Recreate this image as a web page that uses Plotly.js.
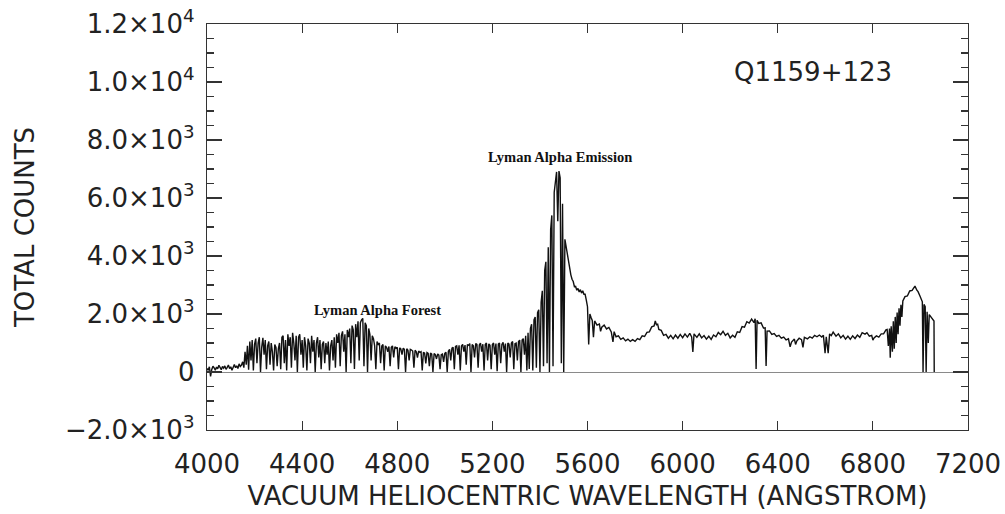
<!DOCTYPE html>
<html>
<head>
<meta charset="utf-8">
<script src="https://cdn.plot.ly/plotly-3.0.1.min.js"></script>
<style>html,body{margin:0;padding:0;background:#fff;}#chart{width:1005px;height:514px;}</style>
</head>
<body>
<div id="chart"></div>
<script>
// ---- Data (Q1159+123) ----
// Segment 1: noisy blue end, 4000-4145 A
const waveBlue = [4000,4005,4010,4015,4020,4025,4030,4035,4040,4045,4050,4055,4060,4065,4070,4075,4080,4085,4090,4095,
  4100,4105,4110,4115,4120,4125,4130,4135,4140,4145];
const countsBlue = [120,60,180,-150,90,200,140,60,170,110,230,150,80,190,130,210,90,160,240,120,
  180,60,200,260,150,210,120,280,190,240];

// Segment 2: Lyman alpha forest, 4150-5395 A
const waveForest = [
  4150,4155,4160,4165,4170,4175,4180,4185,4190,4195,
  4200,4205,4210,4215,4220,4225,4230,4235,4240,4245,4250,4255,4260,4265,4270,4275,4280,4285,4290,4295,
  4300,4305,4310,4315,4320,4325,4330,4335,4340,4345,4350,4355,4360,4365,4370,4375,4380,4385,4390,4395,
  4400,4405,4410,4415,4420,4425,4430,4435,4440,4445,4450,4455,4460,4465,4470,4475,4480,4485,4490,4495,
  4500,4505,4510,4515,4520,4525,4530,4535,4540,4545,4550,4555,4560,4565,4570,4575,4580,4585,4590,4595,
  4600,4605,4610,4615,4620,4625,4630,4635,4640,4645,4650,4655,4660,4665,4670,4675,4680,4685,4690,4695,
  4700,4705,4710,4715,4720,4725,4730,4735,4740,4745,4750,4755,4760,4765,4770,4775,4780,4785,4790,4795,
  4800,4805,4810,4815,4820,4825,4830,4835,4840,4845,4850,4855,4860,4865,4870,4875,4880,4885,4890,4895,
  4900,4905,4910,4915,4920,4925,4930,4935,4940,4945,4950,4955,4960,4965,4970,4975,4980,4985,4990,4995,
  5000,5005,5010,5015,5020,5025,5030,5035,5040,5045,5050,5055,5060,5065,5070,5075,5080,5085,5090,5095,
  5100,5105,5110,5115,5120,5125,5130,5135,5140,5145,5150,5155,5160,5165,5170,5175,5180,5185,5190,5195,
  5200,5205,5210,5215,5220,5225,5230,5235,5240,5245,5250,5255,5260,5265,5270,5275,5280,5285,5290,5295,
  5300,5305,5310,5315,5320,5325,5330,5335,5340,5345,5350,5355,5360,5365,5370,5375,5380,5385,5390,5395];
const countsForest = [
  350,150,700,250,900,80,1050,400,1100,50,
  950,1150,300,1000,1200,0,850,1180,600,1100,100,900,1050,250,1000,700,50,950,850,200,
  800,1000,100,1200,1250,300,1100,50,1300,900,1200,150,1350,1000,400,1250,0,1200,1300,600,
  1100,150,1200,900,50,1150,1000,300,1250,700,1100,0,1000,1200,500,1100,100,950,1050,300,
  1000,600,1050,50,900,1100,400,1200,150,1300,1000,1350,200,1250,1400,700,1300,0,1450,1200,
  1500,300,1600,1450,100,1650,1200,1750,400,1700,1800,1850,200,1700,1600,0,1500,1300,400,1250,
  1150,900,100,1050,950,1000,300,900,950,50,900,850,700,880,200,850,900,500,870,820,
  850,100,830,800,600,820,780,0,800,750,400,780,760,720,150,750,700,500,720,680,
  700,50,680,650,300,670,640,200,650,620,0,640,600,450,620,580,100,600,620,350,
  640,680,0,720,780,400,820,850,100,880,900,600,920,50,900,950,700,930,250,950,
  920,980,0,950,900,500,980,950,150,930,1000,700,960,50,950,1000,400,970,920,100,
  950,1000,600,980,30,960,1000,300,950,1020,700,980,0,1000,960,500,1000,1050,100,980,
  1000,400,1050,1100,0,1100,1150,600,1250,50,1350,100,1500,1650,50,1800,1900,150,2050,2150];

// Segment 3: Lyman alpha emission line, 5400-5500 A
const waveEmission = [5400,5405,5410,5415,5420,5425,5430,5435,5440,5445,5450,5455,5460,5465,5470,5475,5480,5485,5490,5495,5500];
const countsEmission = [0,2400,2800,200,3500,3800,300,4300,0,4900,5400,200,6200,6650,6900,5200,6930,6700,300,5800,0];

// Segment 4: red side continuum, 5505-7058 A
const waveRed = [5505,5510,5515,5520,5525,5530,5535,5540,5545,5550,5555,5560,5565,5570,5575,5580,5585,5590,5595,5600,
  5605,5610,5615,5620,5625,5630,5640,5650,5655,5660,5670,5680,5690,5700,5707,5712,5720,5730,5740,5750,
  5760,5770,5780,5790,5800,5810,5820,5830,5840,5850,5860,5870,5880,5885,5890,5895,5900,5910,5920,5930,
  5940,5950,5960,5970,5980,5990,6000,6010,6020,6030,6038,6043,6048,6060,6070,6080,6090,6100,6110,6120,
  6130,6140,6150,6160,6170,6180,6190,6200,6210,6220,6230,6240,6250,6260,6270,6280,6290,6300,6305,6309,
  6313,6320,6330,6340,6347,6351,6355,6365,6375,6385,6395,6405,6415,6425,6435,6445,6452,6458,6470,6475,
  6480,6490,6500,6506,6512,6525,6535,6545,6555,6565,6575,6585,6592,6599,6604,6612,6618,6625,6633,6645,
  6655,6665,6675,6685,6695,6705,6715,6725,6735,6745,6755,6767,6775,6785,6795,6800,6805,6815,6825,6835,
  6845,6855,6860,6865,6870,6873,6877,6882,6886,6890,6894,6898,6902,6906,6910,6914,6918,6922,6926,6935,
  6945,6955,6965,6977,6985,6990,6998,7003,7008,7011,7015,7020,7024,7028,7033,7037,7045,7050,7057,7058];
const countsRed = [4575,4300,4050,3800,3550,3350,3200,3120,2940,2950,2820,2880,2760,2840,2720,2800,2680,2680,2480,2250,
  950,2000,1880,1780,1200,1760,1615,1655,1400,1545,1615,1485,1535,1380,1040,1390,1215,1245,1125,1175,
  1075,1135,1055,1115,1055,1155,1115,1245,1225,1365,1385,1555,1585,1760,1630,1650,1465,1435,1265,1295,
  1165,1265,1145,1275,1165,1295,1185,1315,1205,1335,1205,690,1315,1195,1315,1175,1255,1135,1235,1125,
  1275,1215,1365,1285,1405,1265,1335,1175,1265,1195,1385,1365,1565,1545,1735,1685,1825,1705,1840,100,
  1780,1675,1695,1515,1525,210,1410,1415,1295,1325,1225,1265,1165,1205,1105,1145,870,1030,1135,950,
  1065,1165,1115,850,1195,1145,1215,1165,1265,1215,1275,1205,1265,650,1215,650,1315,1255,1375,1235,
  1315,1175,1265,1135,1235,1125,1245,1155,1275,1195,1355,1305,1355,1235,1265,1100,1175,1245,1205,1315,
  1315,1455,1470,900,1500,490,1580,700,1750,800,1900,1000,2050,1300,2200,1600,2320,1900,2450,2600,
  2620,2795,2815,2960,2820,2770,2620,2500,2420,0,2330,2250,0,2080,1000,1980,1880,1830,1760,0];

const wavelength = [].concat(waveBlue, waveForest, waveEmission, waveRed);
const totalCounts = [].concat(countsBlue, countsForest, countsEmission, countsRed);

// Axis ticks
const xTickVals = [4000,4400,4800,5200,5600,6000,6400,6800,7200];
const yTickVals = [-2000,0,2000,4000,6000,8000,10000,12000];
const yTickText = ['\u22122.0\u00d710<sup>3</sup>','0','2.0\u00d710<sup>3</sup>','4.0\u00d710<sup>3</sup>',
  '6.0\u00d710<sup>3</sup>','8.0\u00d710<sup>3</sup>','1.0\u00d710<sup>4</sup>','1.2\u00d710<sup>4</sup>'];

// Labels
const objectName = 'Q1159+123';
const forestLabel = 'Lyman Alpha Forest';
const emissionLabel = 'Lyman Alpha Emission';

const sans = 'DejaVu Sans, sans-serif';
const axisColor = '#333';

const trace = {
  x: wavelength, y: totalCounts, type: 'scatter', mode: 'lines',
  line: {color: '#111', width: 1.4}, hoverinfo: 'skip'
};

const layout = {
  width: 1005, height: 514,
  margin: {l: 207, r: 37, t: 24, b: 84},
  paper_bgcolor: '#fff', plot_bgcolor: '#fff',
  showlegend: false,
  xaxis: {
    range: [4000, 7200], tickvals: xTickVals, ticks: 'inside', ticklen: 9, tickwidth: 1.2,
    tickcolor: axisColor, showline: true, linecolor: axisColor, linewidth: 1.3, mirror: 'ticks',
    showgrid: false, zeroline: false, ticklabelstandoff: 10,
    tickfont: {family: sans, size: 26, color: '#222'},
    title: {text: 'VACUUM HELIOCENTRIC WAVELENGTH (ANGSTROM)', font: {family: sans, size: 26, color: '#222'}, standoff: 9}
  },
  yaxis: {
    range: [-2000, 12000], tickvals: yTickVals, ticktext: yTickText, ticks: 'inside', ticklen: 15, tickwidth: 1.2,
    tickcolor: axisColor, showline: true, linecolor: axisColor, linewidth: 1.3, mirror: 'ticks',
    minor: {dtick: 500, tick0: 0, ticks: 'inside', ticklen: 7, tickwidth: 1.1, tickcolor: axisColor, showgrid: false},
    showgrid: false, zeroline: true, zerolinecolor: '#8a8a8a', zerolinewidth: 1, ticklabelstandoff: 6,
    tickfont: {family: sans, size: 26, color: '#222'},
    title: {text: 'TOTAL COUNTS', font: {family: sans, size: 26, color: '#222'}, standoff: 22}
  },
  annotations: [
    {x: 4715, y: 2150, xref: 'x', yref: 'y', text: '<b>' + forestLabel + '</b>', showarrow: false,
     xanchor: 'center', yanchor: 'middle', font: {family: 'Liberation Serif, serif', size: 14.5, color: '#111'}},
    {x: 5484, y: 7420, xref: 'x', yref: 'y', text: '<b>' + emissionLabel + '</b>', showarrow: false,
     xanchor: 'center', yanchor: 'middle', font: {family: 'Liberation Serif, serif', size: 14.5, color: '#111'}},
    {x: 6548, y: 10330, xref: 'x', yref: 'y', text: objectName, showarrow: false,
     xanchor: 'center', yanchor: 'middle', font: {family: sans, size: 26, color: '#222'}}
  ]
};

Plotly.newPlot('chart', [trace], layout, {staticPlot: true, displayModeBar: false});
</script>
</body>
</html>
